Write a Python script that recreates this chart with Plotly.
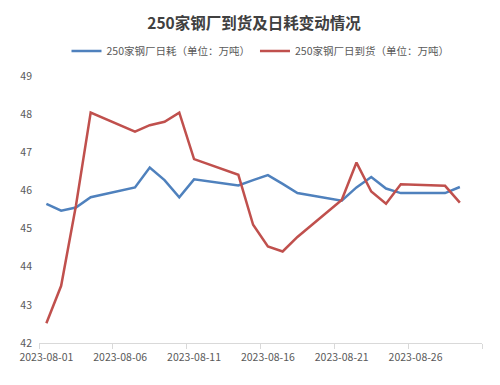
import plotly.graph_objects as go

dates = ["2023-08-01", "2023-08-02", "2023-08-03", "2023-08-04", "2023-08-07",
         "2023-08-08", "2023-08-09", "2023-08-10", "2023-08-11", "2023-08-14",
         "2023-08-15", "2023-08-16", "2023-08-17", "2023-08-18", "2023-08-21",
         "2023-08-22", "2023-08-23", "2023-08-24", "2023-08-25", "2023-08-28",
         "2023-08-29"]
daily_consumption = [45.65, 45.47, 45.55, 45.82, 46.08, 46.60, 46.27, 45.82, 46.29, 46.13,
                     46.27, 46.40, 46.17, 45.93, 45.73, 46.08, 46.35, 46.05, 45.93, 45.93,
                     46.09]
daily_arrival = [42.52, 43.50, 45.60, 48.04, 47.54, 47.71, 47.80, 48.04, 46.82, 46.41,
                 45.10, 44.53, 44.40, 44.78, 45.75, 46.73, 45.97, 45.65, 46.16, 46.12,
                 45.68]
series_names = ["250家钢厂日耗（单位：万吨）", "250家钢厂日到货（单位：万吨）"]
title_text = "250家钢厂到货及日耗变动情况"
x_tick_vals = ["2023-08-01", "2023-08-06", "2023-08-11", "2023-08-16", "2023-08-21", "2023-08-26"]
x_tick_text = ["2023-08-01", "2023-08-06", "2023-08-11", "2023-08-16", "2023-08-21", "2023-08-26"]

FONT = "Noto Sans CJK SC"
GRAY = "#595959"

# The page body has an 8px default margin; size the figure so the plot lands as in the reference.
W, H = 492, 377
L, R, T, B = 23, 18, 68, 42
plot_h = H - T - B

fig = go.Figure()
fig.add_trace(go.Scatter(x=dates, y=daily_consumption, name=series_names[0], mode="lines",
                         line=dict(color="#4F81BD", width=2.5)))
fig.add_trace(go.Scatter(x=dates, y=daily_arrival, name=series_names[1], mode="lines",
                         line=dict(color="#C0504D", width=2.5)))

fig.update_layout(
    width=W, height=H,
    margin=dict(l=L, r=R, t=T, b=B),
    paper_bgcolor="white", plot_bgcolor="white",
    font=dict(family=FONT, color=GRAY, size=10.5),
    title=dict(text="<b>" + title_text + "</b>", x=0.5, xanchor="center", y=1 - 16 / H,
               yanchor="middle", font=dict(family=FONT, size=15.5, color="#404040")),
    legend=dict(orientation="h", x=0.5, xanchor="center", y=1 + (T - 43) / plot_h,
                yanchor="middle", font=dict(family=FONT, size=10.5, color=GRAY), itemwidth=30,
                bgcolor="rgba(0,0,0,0)"),
    showlegend=True,
)
fig.update_xaxes(
    type="date",
    range=["2023-07-31 12:00", "2023-08-30 12:00"],
    tickvals=x_tick_vals, ticktext=x_tick_text,
    ticks="", showgrid=False, zeroline=False,
    showline=True, linecolor="#D9D9D9", linewidth=1,
    tickfont=dict(family=FONT, size=10.5, color=GRAY), ticklabelstandoff=4,
    minor=dict(tick0="2023-07-31 12:00", dtick=5 * 86400000, ticks="outside",
               ticklen=5, tickcolor="#D9D9D9", showgrid=False),
)
fig.update_yaxes(
    range=[42, 49], dtick=1, showgrid=False, zeroline=False, showline=False,
    ticks="", tickfont=dict(family=FONT, size=10.5, color=GRAY), ticklabelstandoff=6,
)

fig.write_html("out.html")
